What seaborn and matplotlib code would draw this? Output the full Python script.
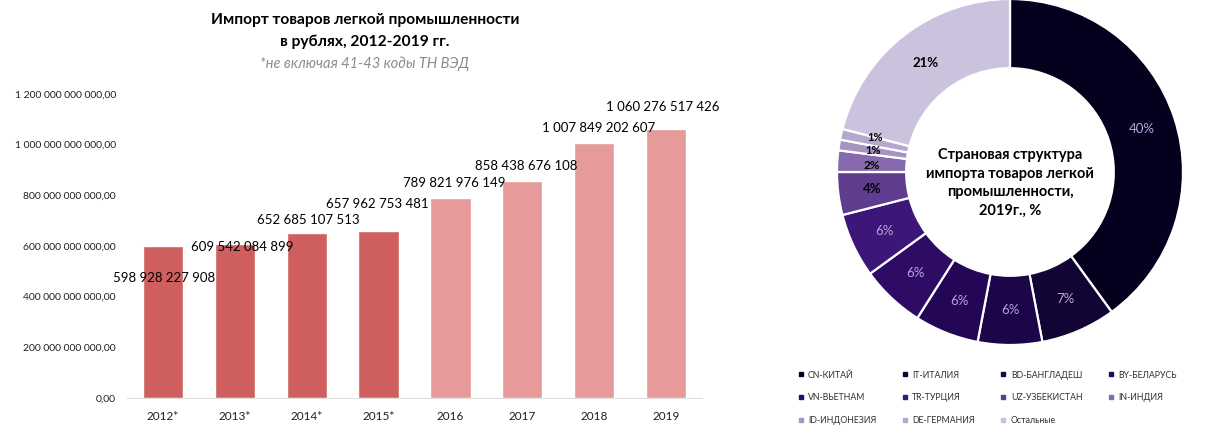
import matplotlib
matplotlib.use("Agg")
import matplotlib.pyplot as plt
from matplotlib.lines import Line2D
import seaborn as sns
import pandas as pd

# ---------------- data ----------------
years = ["2012*", "2013*", "2014*", "2015*", "2016", "2017", "2018", "2019"]
import_rub = [598928227908, 609542084899, 652685107513, 657962753481,
              789821976149, 858438676108, 1007849202607, 1060276517426]
y_ticks = [0, 200e9, 400e9, 600e9, 800e9, 1000e9, 1200e9]

countries = ["CN-КИТАЙ", "IT-ИТАЛИЯ", "BD-БАНГЛАДЕШ", "BY-БЕЛАРУСЬ",
             "VN-ВЬЕТНАМ", "TR-ТУРЦИЯ", "UZ-УЗБЕКИСТАН", "IN-ИНДИЯ",
             "ID-ИНДОНЕЗИЯ", "DE-ГЕРМАНИЯ", "Остальные"]
shares = [40, 7, 6, 6, 6, 6, 4, 2, 1, 1, 21]

# ---------------- styling ----------------
bar_colors = ["#cf5f5e"] * 4 + ["#e69a99"] * 4
donut_colors = ["#06001f", "#130436", "#1c0548", "#230656", "#2e0c66",
                "#3d167a", "#5e3d8f", "#866aad", "#a593c2", "#b5a8d0", "#cbc3de"]
light_label = ["#b9a6d8"] * 6 + ["#000000"] * 5
label_bold = [False] * 6 + [True] * 5
pct_size = [9.5] * 7 + [8.5, 8, 8, 9.5]
# pixel nudges for the donut percentage labels (dx, dy)
pct_nudge = [(0, 0)] * 7 + [(0, -2), (0, 0), (0, 4), (0, 0)]
# per-label nudges in pixels (dx, dy) relative to bar top
label_nudge = [(1, -32), (7, -3), (2, 13), (-1, 27), (4, 15), (4, 15), (4, 15), (-3, 22)]

sns.set_theme(style="white")
plt.rcParams["font.family"] = ["Lato", "DejaVu Sans"]

W, H = 1214, 425
fig = plt.figure(figsize=(W / 100, H / 100), dpi=100)

# ---------------- bar chart ----------------
x0, x1 = 127, 702
y_bot, y_top = 398, 94
ax = fig.add_axes([x0 / W, 1 - y_bot / H, (x1 - x0) / W, (y_bot - y_top) / H])
df = pd.DataFrame({"year": years, "value": import_rub})
sns.barplot(data=df, x="year", y="value", hue="year", palette=bar_colors,
            legend=False, width=0.56, ax=ax, saturation=1)
ax.set_ylim(0, 1.2e12)
ax.set_xlim(-0.5, len(years) - 0.5)
ax.set_yticks(y_ticks)
ax.set_yticklabels([f"{v:,.2f}".replace(",", " ").replace(".", ",") for v in y_ticks],
                   fontsize=7.5, color="#202020")
ax.tick_params(axis="y", length=0, pad=8)
ax.tick_params(axis="x", length=0, pad=9, labelsize=8.5, labelcolor="#202020")
ax.set_xlabel("")
ax.set_ylabel("")
for s in ["top", "right", "left"]:
    ax.spines[s].set_visible(False)
ax.spines["bottom"].set_color("#e0e0e0")
ax.spines["bottom"].set_linewidth(0.8)
ax.grid(False)

for i, v in enumerate(import_rub):
    dx, dy = label_nudge[i]
    ax.annotate(f"{v:,}".replace(",", " "), (i, v), xytext=(dx, dy),
                textcoords="offset pixels", ha="center", va="center",
                fontsize=9.5, color="#000000")

fig.text(365 / W, 1 - 20 / H, "Импорт товаров легкой промышленности", ha="center",
         va="center", fontsize=11.2, fontweight="bold", color="#000000")
fig.text(365 / W, 1 - 42 / H, "в рублях, 2012-2019 гг.", ha="center",
         va="center", fontsize=11.2, fontweight="bold", color="#000000")
fig.text(365 / W, 1 - 64 / H, "*не включая 41-43 коды ТН ВЭД", ha="center",
         va="center", fontsize=10.5, fontstyle="italic", color="#8c8c8c")

# ---------------- donut ----------------
cx, cy, R = 1010, 172, 173
half = 182
ax2 = fig.add_axes([(cx - half) / W, 1 - (cy + half) / H, 2 * half / W, 2 * half / H])
wedges, texts, autotexts = ax2.pie(
    shares, colors=donut_colors, startangle=90, counterclock=False, radius=1,
    wedgeprops=dict(width=0.4, edgecolor="white", linewidth=1.6),
    autopct=lambda p: f"{p:.0f}%", pctdistance=0.8)
lim = half / R
px = lim / half  # data units per pixel
for t, c, b, fs, (ndx, ndy) in zip(autotexts, light_label, label_bold, pct_size, pct_nudge):
    t.set_color(c)
    t.set_fontsize(fs)
    t.set_fontweight("bold" if b else "normal")
    xx, yy = t.get_position()
    t.set_position((xx + ndx * px, yy + ndy * px))
ax2.set_xlim(-lim, lim)
ax2.set_ylim(-lim, lim)
ax2.set_aspect("equal")
ax2.axis("off")
ax2.text(0, -0.064, "Страновая структура\nимпорта товаров легкой\nпромышленности,\n2019г., %",
         ha="center", va="center", fontsize=10.5, fontweight="bold", color="#000000",
         linespacing=1.4)

# ---------------- legend ----------------
order = [0, 4, 8, 1, 5, 9, 2, 6, 10, 3, 7]
handles = [Line2D([0], [0], marker="s", linestyle="", markersize=3,
                  markerfacecolor=donut_colors[i], markeredgecolor=donut_colors[i])
           for i in order]
labels = [countries[i] for i in order]
fig.legend(handles, labels, ncol=4, loc="upper left",
           bbox_to_anchor=(795 / W, 1 - 367 / H), frameon=False, fontsize=6.3,
           handlelength=0.5, handletextpad=0.6, columnspacing=3.0,
           labelspacing=1.55, labelcolor="#303030", borderaxespad=0)

fig.savefig("out.png", dpi=100, facecolor="white")
